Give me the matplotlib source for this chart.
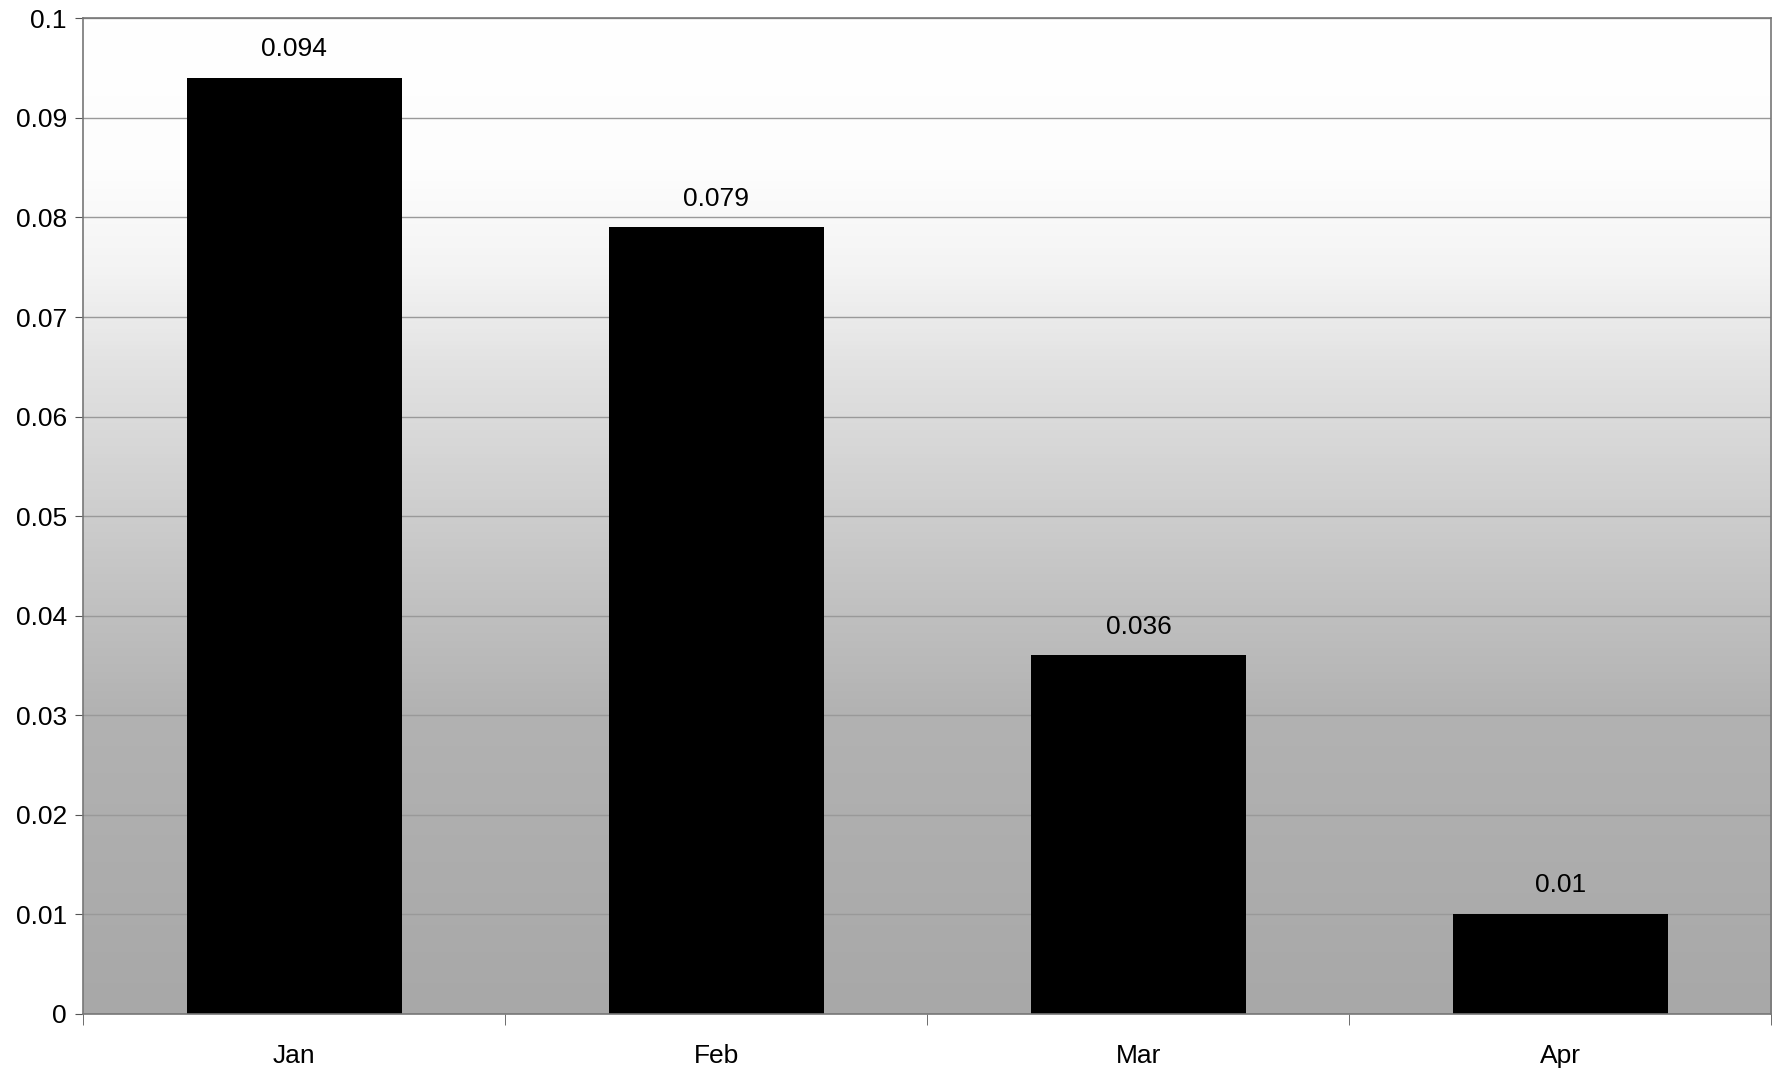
import numpy as np
import matplotlib.pyplot as plt
from matplotlib.colors import LinearSegmentedColormap

months = ["Jan", "Feb", "Mar", "Apr"]
values = [0.094, 0.079, 0.036, 0.01]
labels = ["0.094", "0.079", "0.036", "0.01"]
yticks = [0, 0.01, 0.02, 0.03, 0.04, 0.05, 0.06, 0.07, 0.08, 0.09, 0.1]
ytick_labels = ["0", "0.01", "0.02", "0.03", "0.04", "0.05", "0.06", "0.07", "0.08", "0.09", "0.1"]

plt.rcParams["font.family"] = ["Liberation Sans", "DejaVu Sans"]

fig = plt.figure(figsize=(17.75, 10.82), dpi=100)
ax = fig.add_axes([0.047, 0.063, 0.951, 0.92])

# background gradient, white at top to grey at bottom
grad = LinearSegmentedColormap.from_list(
    "bg", [(0.0, "#a8a8a8"), (0.3, "#b2b2b2"), (0.5, "#cdcdcd"), (0.65, "#e2e2e2"),
           (0.75, "#f4f4f4"), (0.85, "#fdfdfd"), (1.0, "#ffffff")])
g = np.linspace(0, 1, 256).reshape(-1, 1)
ax.imshow(g, cmap=grad, aspect="auto", origin="lower",
          extent=[-0.5, len(months) - 0.5, 0, 0.1], zorder=0)

x = np.arange(len(months))
ax.bar(x, values, width=0.51, color="black", zorder=3)
for xi, v, lab in zip(x, values, labels):
    ax.text(xi, v + 0.0017, lab, ha="center", va="bottom", fontsize=19)

ax.set_xlim(-0.5, len(months) - 0.5)
ax.set_ylim(0, 0.1)
ax.set_yticks(yticks)
ax.set_yticklabels(ytick_labels, fontsize=19)
ax.yaxis.grid(True, color="#999999", linewidth=1.0, zorder=1)
ax.set_axisbelow(False)

ax.set_xticks(x)
ax.set_xticklabels(months, fontsize=19)
ax.set_xticks(np.arange(-0.5, len(months), 1.0), minor=True)
ax.tick_params(axis="x", which="major", length=0, pad=22)
ax.tick_params(axis="x", which="minor", length=8, color="#555555", direction="out")
ax.tick_params(axis="y", length=6, color="#555555", direction="out", pad=6)

for s in ax.spines.values():
    s.set_color("#777777")
    s.set_linewidth(1.2)
    s.set_zorder(4)

fig.savefig("out.png", dpi=100, facecolor="white")
